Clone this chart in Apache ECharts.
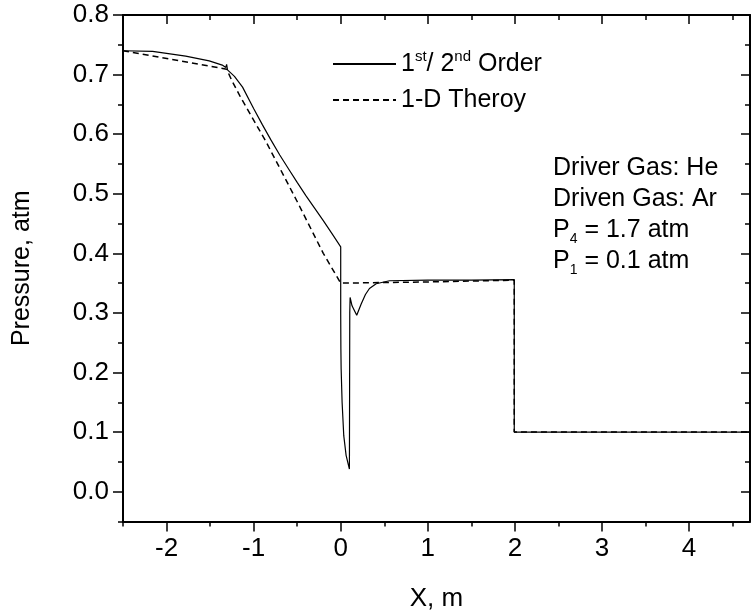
<!DOCTYPE html>
<html>
<head>
<meta charset="utf-8">
<script src="https://cdn.jsdelivr.net/npm/echarts@6/dist/echarts.min.js"></script>
<style>
html,body{margin:0;padding:0;background:#fff;}
#chart{width:753px;height:615px;}
</style>
</head>
<body>
<div id="chart"></div>
<script>
// ---- data ----
const seriesNames = ['1st/ 2nd Order', '1-D Theroy'];

const solidX = [-2.5, -2.16, -1.78, -1.51, -1.36, -1.32, -1.31, -1.30, -1.22, -1.127, -1.0, -0.9, -0.8, -0.7, -0.6, -0.5, -0.4, -0.3, -0.2, -0.1, 0.0,
  0.0, 0.002, 0.005, 0.016, 0.035, 0.062, 0.1, 0.104, 0.108, 0.13, 0.184, 0.235, 0.284, 0.33, 0.407, 0.56, 1.0, 1.5, 1.993, 1.993, 4.7];
const solidY = [0.740, 0.739, 0.731, 0.723, 0.716, 0.712, 0.717, 0.708, 0.697, 0.679, 0.643, 0.616, 0.590, 0.565, 0.542, 0.519, 0.497, 0.476, 0.455, 0.433, 0.411,
  0.300, 0.240, 0.206, 0.150, 0.094, 0.061, 0.038, 0.300, 0.326, 0.312, 0.296, 0.315, 0.331, 0.341, 0.349, 0.354, 0.355, 0.355, 0.356, 0.100, 0.100];

const dashX = [-2.5, -1.31, -1.25, -1.15, -0.86, -0.5, -0.2, 0.0, 1.0, 1.993, 1.993, 4.7];
const dashY = [0.740, 0.709, 0.690, 0.662, 0.588, 0.487, 0.400, 0.350, 0.352, 0.355, 0.100, 0.100];

const xMin = -2.5, xMax = 4.7;
const yMin = -0.05, yMax = 0.8;
const xMajorTicks = { min: -2, max: 4, interval: 1 };
const xMinorTicks = { min: -2.5, max: 4.5, interval: 0.5 };
const yMajorTicks = { min: 0, max: 0.8, interval: 0.1 };
const yMinorTicks = { min: -0.05, max: 0.8, interval: 0.05 };

const annotationLines = ['Driver Gas: He', 'Driven Gas: Ar', 'P{sub|4} = 1.7 atm', 'P{sub|1} = 0.1 atm'];

// ---- layout ----
const FONT = 'Liberation Sans, Arial, Helvetica, sans-serif';
const W = 753, H = 615;
const L = 123, R = 3, T = 15, B = 93.5;
const pw = W - L - R, ph = H - T - B;
const xpx = v => L + (v - xMin) / (xMax - xMin) * pw;
const ypx = v => T + (yMax - v) / (yMax - yMin) * ph;

const black = '#000';
const lineAx = { show: true, onZero: false, lineStyle: { color: black, width: 2 } };
const noLine = { show: false, onZero: false };
const hidden = { show: false };
const tickStyle = { color: black, width: 1.5 };
const labelFont = 26;
const gridBase = { outerBoundsMode: 'none', containLabel: false };

const grids = [
  Object.assign({ left: L, right: R, top: T, bottom: B }, gridBase),                                           // 0 frame + data
  Object.assign({ left: xpx(xMajorTicks.min), right: W - xpx(xMajorTicks.max), top: T, bottom: B }, gridBase), // 1 x major + y minor
  Object.assign({ left: L, right: W - xpx(xMinorTicks.max), top: T, bottom: B }, gridBase),                    // 2 x minor
  Object.assign({ left: L, right: R, top: T, bottom: H - ypx(yMajorTicks.min) }, gridBase)                     // 3 y major
];

const xAxes = [
  { gridIndex: 0, type: 'value', position: 'bottom', min: xMin, max: xMax, axisLine: lineAx,
    axisTick: hidden, axisLabel: hidden, splitLine: hidden,
    name: 'X, m', nameLocation: 'middle', nameGap: 64,
    nameTextStyle: { fontFamily: FONT, fontSize: 26, color: black } },
  { gridIndex: 0, type: 'value', position: 'top', min: xMin, max: xMax, axisLine: lineAx,
    axisTick: hidden, axisLabel: hidden, splitLine: hidden },
  { gridIndex: 1, type: 'value', position: 'bottom', min: xMajorTicks.min, max: xMajorTicks.max, interval: xMajorTicks.interval,
    axisLine: noLine, axisTick: { show: true, inside: false, length: 10, lineStyle: tickStyle },
    axisLabel: { show: true, margin: 14, fontFamily: FONT, fontSize: labelFont, color: black }, splitLine: hidden },
  { gridIndex: 1, type: 'value', position: 'top', min: xMajorTicks.min, max: xMajorTicks.max, interval: xMajorTicks.interval,
    axisLine: noLine, axisTick: { show: true, inside: true, length: 9, lineStyle: tickStyle },
    axisLabel: hidden, splitLine: hidden },
  { gridIndex: 2, type: 'value', position: 'bottom', min: xMinorTicks.min, max: xMinorTicks.max, interval: xMinorTicks.interval,
    axisLine: noLine, axisTick: { show: true, inside: false, length: 5, lineStyle: tickStyle },
    axisLabel: hidden, splitLine: hidden },
  { gridIndex: 2, type: 'value', position: 'top', min: xMinorTicks.min, max: xMinorTicks.max, interval: xMinorTicks.interval,
    axisLine: noLine, axisTick: { show: true, inside: true, length: 5, lineStyle: tickStyle },
    axisLabel: hidden, splitLine: hidden },
  { gridIndex: 3, type: 'value', show: false, min: 0, max: 1 }
];

const yAxes = [
  { gridIndex: 0, type: 'value', position: 'left', min: yMin, max: yMax, axisLine: lineAx,
    axisTick: hidden, axisLabel: hidden, splitLine: hidden,
    name: 'Pressure, atm', nameLocation: 'middle', nameGap: 88,
    nameTextStyle: { fontFamily: FONT, fontSize: 25, color: black } },
  { gridIndex: 0, type: 'value', position: 'right', min: yMin, max: yMax, axisLine: lineAx,
    axisTick: hidden, axisLabel: hidden, splitLine: hidden },
  { gridIndex: 1, type: 'value', position: 'left', min: yMinorTicks.min, max: yMinorTicks.max, interval: yMinorTicks.interval,
    axisLine: noLine, axisTick: { show: true, inside: false, length: 5, lineStyle: tickStyle },
    axisLabel: hidden, splitLine: hidden, offset: xpx(xMajorTicks.min) - L },
  { gridIndex: 1, type: 'value', position: 'right', min: yMinorTicks.min, max: yMinorTicks.max, interval: yMinorTicks.interval,
    axisLine: noLine, axisTick: { show: true, inside: true, length: 5, lineStyle: tickStyle },
    axisLabel: hidden, splitLine: hidden, offset: (W - R) - xpx(xMajorTicks.max) },
  { gridIndex: 2, type: 'value', show: false, min: 0, max: 1 },
  { gridIndex: 3, type: 'value', position: 'left', min: yMajorTicks.min, max: yMajorTicks.max, interval: yMajorTicks.interval,
    axisLine: noLine, axisTick: { show: true, inside: false, length: 10, lineStyle: tickStyle },
    axisLabel: { show: true, margin: 14, fontFamily: FONT, fontSize: labelFont, color: black, formatter: v => v.toFixed(1) },
    splitLine: hidden },
  { gridIndex: 3, type: 'value', position: 'right', min: yMajorTicks.min, max: yMajorTicks.max, interval: yMajorTicks.interval,
    axisLine: noLine, axisTick: { show: true, inside: true, length: 9, lineStyle: tickStyle },
    axisLabel: hidden, splitLine: hidden }
];

const zip = (xs, ys) => xs.map((x, i) => [x, ys[i]]);

const option = {
  animation: false,
  backgroundColor: '#fff',
  grid: grids,
  xAxis: xAxes,
  yAxis: yAxes,
  legend: {
    orient: 'vertical', left: 327, top: 44, itemWidth: 63, itemHeight: 12, itemGap: 6,
    data: seriesNames,
    itemStyle: { opacity: 0 },
    textStyle: {
      fontFamily: FONT, fontSize: 25, color: black, lineHeight: 30,
      rich: {
        n: { fontFamily: FONT, fontSize: 25, color: black, lineHeight: 30 },
        s: { fontFamily: FONT, fontSize: 15, color: black, lineHeight: 14, verticalAlign: 'top' }
      }
    },
    formatter: name => name === seriesNames[0] ? '{n|1}{s|st}{n|/ 2}{s|nd}{n| Order}' : '{n|' + name + '}'
  },
  graphic: [{
    type: 'text', left: 553, top: 153,
    style: {
      text: annotationLines.join('\n'),
      fontFamily: FONT, fontSize: 25, lineHeight: 31, fill: black,
      rich: {
        sub: { fontFamily: FONT, fontSize: 14, lineHeight: 6, verticalAlign: 'bottom', fill: black }
      }
    }
  }],
  series: [
    { name: seriesNames[0], type: 'line', xAxisIndex: 0, yAxisIndex: 0, data: zip(solidX, solidY),
      symbol: 'none', showSymbol: false, lineStyle: { color: black, width: 1.2 }, itemStyle: { color: black }, z: 3 },
    { name: seriesNames[1], type: 'line', xAxisIndex: 0, yAxisIndex: 0, data: zip(dashX, dashY),
      symbol: 'none', showSymbol: false, lineStyle: { color: black, width: 1.5, type: [6, 4] }, itemStyle: { color: black }, z: 2 }
  ]
};

const chart = echarts.init(document.getElementById('chart'), null, { renderer: 'canvas', width: W, height: H });
chart.setOption(option);
</script>
</body>
</html>
